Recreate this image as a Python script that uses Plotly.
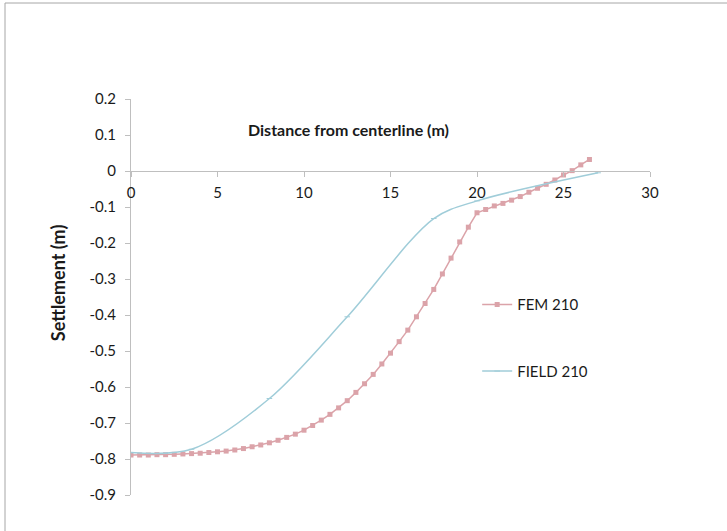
import plotly.graph_objects as go

# ---- data ----
fem_x = [i * 0.5 for i in range(54)]
fem_y = [-0.789, -0.789, -0.789, -0.788, -0.788, -0.787, -0.786, -0.785, -0.784, -0.782,
         -0.780, -0.778, -0.775, -0.771, -0.766, -0.761, -0.755, -0.748, -0.740, -0.731,
         -0.720, -0.707, -0.692, -0.676, -0.658, -0.638, -0.615, -0.591, -0.565, -0.536,
         -0.506, -0.474, -0.442, -0.405, -0.368, -0.329, -0.286, -0.242, -0.197, -0.156,
         -0.116, -0.107, -0.097, -0.090, -0.081, -0.071, -0.059, -0.048, -0.037, -0.025,
         -0.011, 0.001, 0.017, 0.032]

field_x = [0, 3.5, 8, 12.5, 17.5, 20, 27]
field_y = [-0.782, -0.773, -0.632, -0.405, -0.132, -0.083, -0.005]

x_ticks = [0, 5, 10, 15, 20, 25, 30]
y_ticks = [0.2, 0.1, 0, -0.1, -0.2, -0.3, -0.4, -0.5, -0.6, -0.7, -0.8, -0.9]
y_tick_text = ["0.2", "0.1", "0", "-0.1", "-0.2", "-0.3", "-0.4", "-0.5", "-0.6", "-0.7", "-0.8", "-0.9"]

FEM_COLOR = "#DBA3A9"
FIELD_COLOR = "#A0CDD9"
AXIS_COLOR = "#BFBFBF"
FONT = "Lato"
TEXT = "#1a1a1a"

fig = go.Figure()
fig.add_trace(go.Scatter(
    x=fem_x, y=fem_y, name="FEM 210", mode="lines+markers",
    line=dict(color=FEM_COLOR, width=1.5),
    marker=dict(symbol="square", size=5, color=FEM_COLOR),
    legendgroup="a",
))
fig.add_trace(go.Scatter(
    x=field_x, y=field_y, name="FIELD 210", mode="lines+markers",
    line=dict(color=FIELD_COLOR, width=1.5, shape="spline", smoothing=0.9),
    marker=dict(symbol="line-ew", size=4, color=FIELD_COLOR, line=dict(color=FIELD_COLOR, width=1)),
    legendgroup="b",
))

fig.update_layout(
    width=727, height=531,
    margin=dict(l=131, r=77, t=99, b=36),
    paper_bgcolor="white", plot_bgcolor="white",
    font=dict(family=FONT, size=15, color=TEXT),
    showlegend=True,
    legend=dict(x=0.667, y=0.522, xanchor="left", yanchor="top",
                tracegroupgap=44, font=dict(size=15, color=TEXT),
                bgcolor="rgba(0,0,0,0)", itemwidth=30),
    xaxis=dict(range=[0, 30], tickvals=x_ticks, showgrid=False, zeroline=False,
               showline=True, linecolor=AXIS_COLOR, linewidth=1,
               ticks="outside", ticklen=5, tickcolor=AXIS_COLOR,
               anchor="free", position=0.9 / 1.1, ticklabelstandoff=3,
               tickfont=dict(size=15)),
    yaxis=dict(range=[-0.9, 0.2], tickvals=y_ticks, ticktext=y_tick_text,
               showgrid=False, zeroline=False,
               showline=True, linecolor=AXIS_COLOR, linewidth=1,
               ticks="outside", ticklen=5, tickcolor=AXIS_COLOR,
               ticklabelstandoff=6, tickfont=dict(size=15)),
)

fig.add_annotation(text="<b>Distance from centerline (m)</b>", x=12.6, y=0.114,
                   xref="x", yref="y", showarrow=False, font=dict(size=16))
fig.add_annotation(text="<b>Settlement (m)</b>", x=-73 / 519, y=0.535,
                   xref="paper", yref="paper", xanchor="center", yanchor="middle",
                   textangle=-90, showarrow=False, font=dict(size=18))

# outer chart frame (top and left edges visible)
fig.add_shape(type="line", xref="paper", yref="paper",
              x0=-126 / 519, x1=1.2, y0=1 + 96 / 396, y1=1 + 96 / 396,
              line=dict(color="#A6A6A6", width=1))
fig.add_shape(type="line", xref="paper", yref="paper",
              x0=-126 / 519, x1=-126 / 519, y0=-0.2, y1=1 + 96 / 396,
              line=dict(color="#A6A6A6", width=1))

fig.write_html("out.html", config={"displayModeBar": False},
               post_script="document.body.style.margin='0';")
